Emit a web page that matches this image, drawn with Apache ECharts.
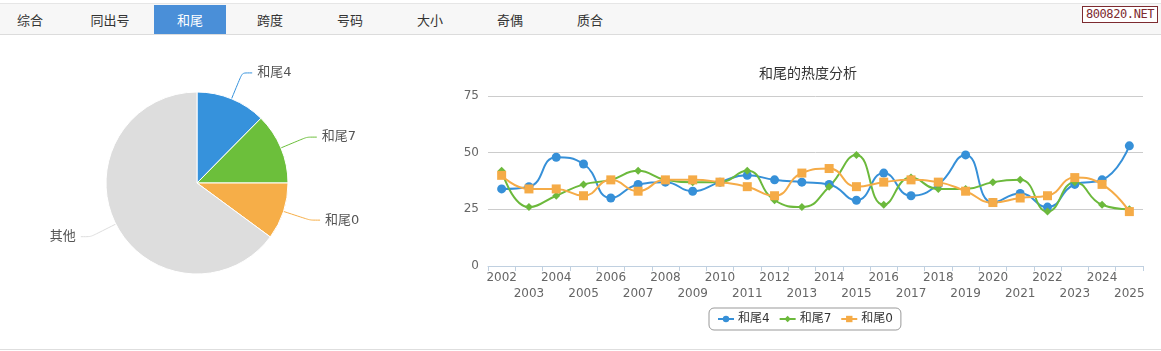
<!DOCTYPE html>
<html>
<head>
<meta charset="utf-8">
<script src="https://cdn.jsdelivr.net/npm/echarts@6/dist/echarts.min.js"></script>
<style>
  html, body { margin: 0; padding: 0; background: #fff; }
  body { width: 1161px; height: 351px; position: relative; overflow: hidden;
         font-family: "Noto Sans CJK SC", "DejaVu Sans", sans-serif; }
  #main { position: absolute; left: 0; top: 0; width: 1161px; height: 351px; }
  .tabs { position: absolute; left: 0; top: 3px; width: 1161px; height: 30px;
          background: #f7f7f7; border-top: 1px solid #e6e6e6; border-bottom: 1px solid #dcdcdc; }
  .tab { position: absolute; top: 1px; width: 72px; height: 29px; line-height: 29px;
         text-align: center; font-size: 13px; color: #333; }
  .tab.on { background: #4a8fd8; color: #fff; }
  .mark { position: absolute; left: 1082px; top: 6px; width: 74px; height: 15px; line-height: 15px;
          border: 1px solid #7d2b30; background: #fff; color: #7d2b30; text-align: center;
          font-family: "DejaVu Sans Mono", monospace; font-size: 12px; letter-spacing: -0.4px; }
  .bottom { position: absolute; left: 0; top: 349px; width: 1161px; height: 0; border-top: 1px solid #dedede; }
</style>
</head>
<body>
<div id="main"></div>
<div class="tabs" id="tabs"></div>
<div class="mark">800820.NET</div>
<div class="bottom"></div>
<script>
// 頁籤
const tabNames = ['综合', '同出号', '和尾', '跨度', '号码', '大小', '奇偶', '质合'];
const activeTab = 2;

// 折線圖資料
const years = ['2002', '2003', '2004', '2005', '2006', '2007', '2008', '2009', '2010', '2011', '2012', '2013',
  '2014', '2015', '2016', '2017', '2018', '2019', '2020', '2021', '2022', '2023', '2024', '2025'];
const tail4 = [34, 35, 48, 45, 30, 36, 37, 33, 37, 40, 38, 37, 36, 29, 41, 31, 36, 49, 28, 32, 26, 36, 38, 53];
const tail7 = [42, 26, 31, 36, 38, 42, 38, 37, 37, 42, 29, 26, 35, 49, 27, 39, 34, 34, 37, 38, 24, 37, 27, 25];
const tail0 = [40, 34, 34, 31, 38, 33, 38, 38, 37, 35, 31, 41, 43, 35, 37, 38, 37, 33, 28, 30, 31, 39, 36, 24];
const yTicks = [0, 25, 50, 75];

// 圓餅圖資料
const pieNames = ['和尾4', '和尾7', '和尾0', '其他'];
const pieValues = [124, 126, 101, 649];

const colors = ['#3690d8', '#6cb93c', '#f5ab47'];
const pieColors = ['#3692dc', '#6cbf3b', '#f6ae48', '#dddddd'];

const tabBox = document.getElementById('tabs');
tabNames.forEach((name, i) => {
  const el = document.createElement('div');
  el.className = 'tab' + (i === activeTab ? ' on' : '');
  el.style.left = (154 + (i - activeTab) * 80) + 'px';
  el.textContent = name;
  tabBox.appendChild(el);
});

const font = '"DejaVu Sans", "Noto Sans CJK SC", sans-serif';
const myChart = echarts.init(document.getElementById('main'));

const handleSeries = () => {
  const lines = [
    { name: '和尾4', data: tail4, symbol: 'circle', symbolSize: 9 },
    { name: '和尾7', data: tail7, symbol: 'diamond', symbolSize: 8 },
    { name: '和尾0', data: tail0, symbol: 'rect', symbolSize: 9 },
  ];
  const seriesList = lines.map((item, index) => ({
    name: item.name,
    type: 'line',
    smooth: 0.5,
    data: item.data,
    symbol: item.symbol,
    symbolSize: item.symbolSize,
    showAllSymbol: true,
    lineStyle: { width: 2, color: colors[index] },
    itemStyle: { color: colors[index] },
  }));
  seriesList.push({
    type: 'pie',
    center: [197, 183],
    radius: 91,
    startAngle: 90,
    clockwise: true,
    avoidLabelOverlap: false,
    itemStyle: { borderColor: '#fff', borderWidth: 1 },
    label: { color: '#555', fontSize: 13, fontFamily: font },
    labelLine: { length: 28, length2: 10, smooth: 0.2, lineStyle: { width: 1 } },
    data: pieNames.map((n, i) => ({ name: n, value: pieValues[i], itemStyle: { color: pieColors[i] } })),
  });
  return seriesList;
};

const options = {
  animation: false,
  textStyle: { fontFamily: font },
  title: {
    text: '和尾的热度分析',
    left: 754,
    top: 62,
    textStyle: { fontSize: 14, fontWeight: 'normal', color: '#333', fontFamily: font },
  },
  legend: {
    data: ['和尾4', '和尾7', '和尾0'],
    left: 709,
    top: 308,
    padding: [5, 8, 5, 8],
    itemWidth: 16,
    itemHeight: 8,
    itemGap: 9,
    borderColor: '#999',
    borderWidth: 1,
    borderRadius: 5,
    textStyle: { fontSize: 12, color: '#333', fontFamily: font, padding: [0, 0, 0, -1] },
  },
  grid: { left: 488, right: 18, top: 96, bottom: 85, containLabel: false },
  xAxis: {
    type: 'category',
    data: years,
    boundaryGap: true,
    axisLine: { lineStyle: { color: '#c0d0e0' } },
    axisTick: { show: true, alignWithLabel: false, length: 5, lineStyle: { color: '#c0d0e0' } },
    axisLabel: {
      interval: 0,
      color: '#666',
      fontSize: 12,
      margin: 4,
      lineHeight: 16,
      formatter: (v, i) => (i % 2 === 1 ? '\n' + v : v),
    },
  },
  yAxis: {
    type: 'value',
    min: yTicks[0],
    max: yTicks[yTicks.length - 1],
    interval: 25,
    axisLine: { show: false },
    axisTick: { show: false },
    axisLabel: { color: '#666', fontSize: 12, margin: 9 },
    splitLine: { lineStyle: { color: '#cccccc' } },
  },
  series: handleSeries(),
};
myChart.clear();
myChart.setOption(options);
</script>
</body>
</html>
